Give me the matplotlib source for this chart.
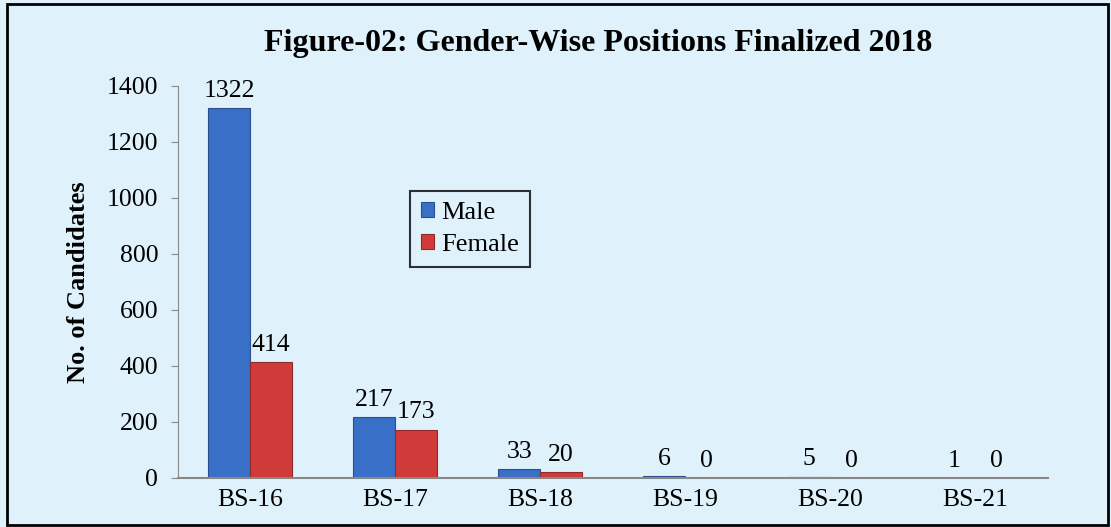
import matplotlib
matplotlib.use("Agg")
import matplotlib.pyplot as plt
import numpy as np
from matplotlib.patches import Rectangle

categories = ["BS-16", "BS-17", "BS-18", "BS-19", "BS-20", "BS-21"]
male = [1322, 217, 33, 6, 5, 1]
female = [414, 173, 20, 0, 0, 0]
yticks = [0, 200, 400, 600, 800, 1000, 1200, 1400]

plt.rcParams['font.family'] = ['Liberation Serif', 'DejaVu Serif']
bg = '#DFF1FB'
fig = plt.figure(figsize=(11.11, 5.27), dpi=100, facecolor=bg)
fig.patches.append(Rectangle((0.006, 0.004), 0.991, 0.989, transform=fig.transFigure,
                             fill=False, edgecolor='black', linewidth=2))
ax = fig.add_axes([0.160, 0.093, 0.783, 0.744])
ax.set_facecolor(bg)

x = np.arange(len(categories))
w = 0.29
ax.bar(x - w / 2, male, w, color='#3A6FC8', edgecolor='#2A4F8F', linewidth=0.8, label='Male')
ax.bar(x + w / 2, female, w, color='#D03B3A', edgecolor='#8F2A2A', linewidth=0.8, label='Female')

fs = 18.5
for xi, v in zip(x, male):
    ax.text(xi - w / 2, v + 22, str(v), ha='center', va='bottom', fontsize=fs)
for xi, v in zip(x, female):
    ax.text(xi + w / 2, v + 22, str(v), ha='center', va='bottom', fontsize=fs)

ax.set_xlim(-0.5, len(categories) - 0.5)
ax.set_ylim(0, 1400)
ax.set_yticks(yticks)
ax.set_xticks(x)
ax.set_xticklabels(categories)
ax.tick_params(axis='y', labelsize=fs, length=5, color='#888888', pad=9)
ax.tick_params(axis='x', labelsize=fs, length=0, pad=8)
for s in ['top', 'right']:
    ax.spines[s].set_visible(False)
ax.spines['left'].set_color('#888888')
ax.spines['bottom'].set_color('#888888')
ax.spines['bottom'].set_linewidth(1.5)

ax.set_ylabel('No. of Candidates', fontsize=19, fontweight='bold', labelpad=12)
fig.text(0.538, 0.918, 'Figure-02: Gender-Wise Positions Finalized 2018', ha='center', va='center',
         fontsize=23, fontweight='bold')

leg = ax.legend(loc='upper left', bbox_to_anchor=(0.267, 0.732), fontsize=19, frameon=True,
                fancybox=False, edgecolor='black', facecolor=bg, handlelength=0.5, handleheight=0.5,
                handletextpad=0.25, borderpad=0.42, labelspacing=0.38, borderaxespad=0)
leg.get_frame().set_linewidth(1.5)

fig.savefig('out.png', dpi=100, facecolor=bg)
